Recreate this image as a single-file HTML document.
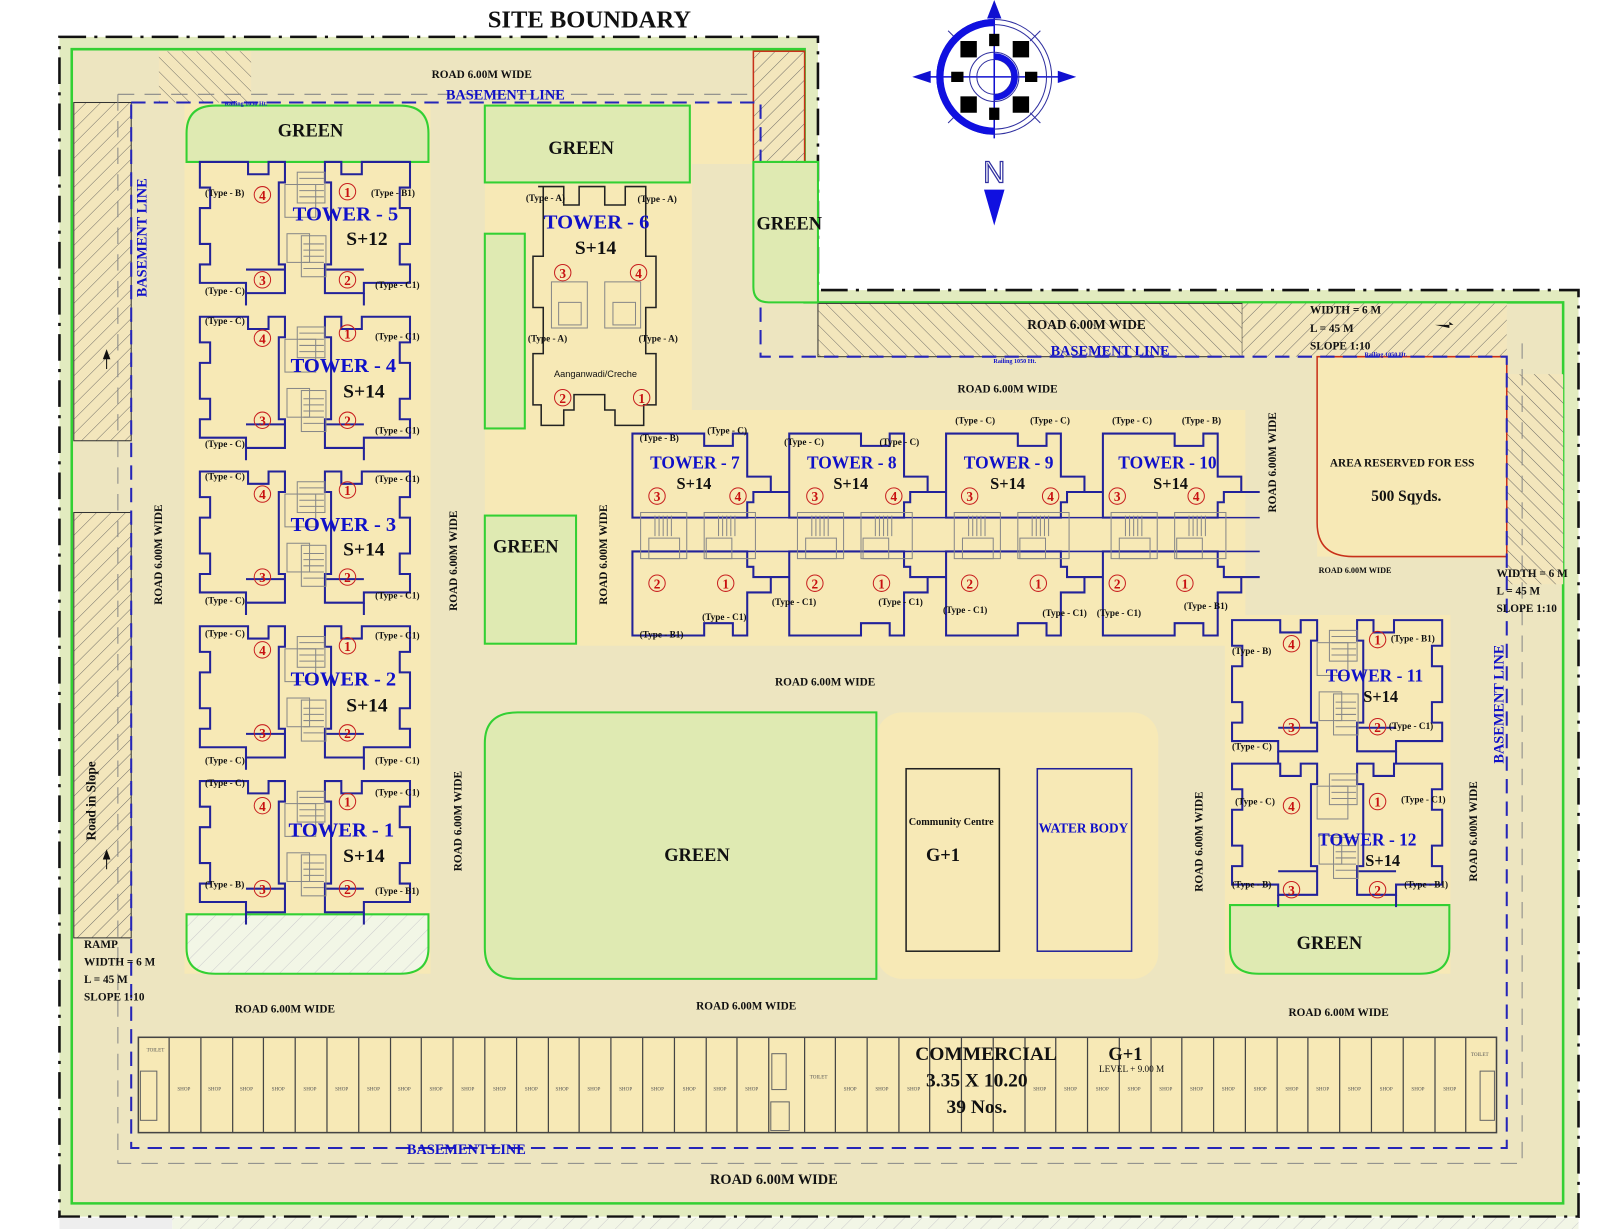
<!DOCTYPE html>
<html><head><meta charset="utf-8"><style>
html,body{margin:0;padding:0;background:#fff}
svg{display:block}
.t{font-family:"Liberation Serif",serif;font-weight:bold;fill:#111}
.b{fill:#1010c8}
.r{fill:#c81010}
</style></head><body>
<svg width="1600" height="1229" viewBox="0 0 1600 1229" xmlns="http://www.w3.org/2000/svg">
<defs>
<pattern id="hatch" width="10" height="10" patternUnits="userSpaceOnUse" patternTransform="rotate(45)">
<rect width="10" height="10" fill="#f3e6bc"/><line x1="0" y1="0" x2="0" y2="10" stroke="#555" stroke-width="0.8"/></pattern>
<pattern id="hatch2" width="10" height="10" patternUnits="userSpaceOnUse" patternTransform="rotate(-45)">
<rect width="10" height="10" fill="#f3e6bc"/><line x1="0" y1="0" x2="0" y2="10" stroke="#555" stroke-width="0.8"/></pattern>
<pattern id="hatchg" width="12" height="12" patternUnits="userSpaceOnUse" patternTransform="rotate(45)">
<rect width="12" height="12" fill="#f2f6e6"/><line x1="0" y1="0" x2="0" y2="12" stroke="#ccc" stroke-width="1"/></pattern>
<g id="vwing" fill="none" stroke="#22229a" stroke-width="2">
<polygon points="5,0 52,0 52,12 72,12 72,0 88,0 88,20 82,20 82,100 88,100 88,128 50,128 50,118 5,118 5,100 15,100 15,80 5,80 5,45 15,45 15,25 5,25"/>
<line x1="50" y1="128" x2="50" y2="140"/>
</g>
<g id="vt">
<use href="#vwing"/>
<use href="#vwing" transform="translate(215,0) scale(-1,1)"/>
<line x1="50" y1="105" x2="88" y2="105" stroke="#22229a" stroke-width="2"/>
<line x1="127" y1="105" x2="165" y2="105" stroke="#22229a" stroke-width="2"/>
<g fill="none" stroke="#888" stroke-width="1">
<rect x="88" y="22" width="30" height="32"/><rect x="100" y="10" width="27" height="30"/>
<rect x="90" y="70" width="22" height="28"/><rect x="104" y="72" width="24" height="40"/>
<path d="M102,16h24M102,22h24M102,28h24M102,34h24M106,80h20M106,86h20M106,92h20M106,98h20M106,104h20"/>
</g>
</g>
<g id="hwing" fill="none" stroke="#22229a" stroke-width="2">
<polygon points="0,8 0,90 112,90 112,75 118,75 118,65 135,65 135,50 112,50 112,8 98,8 98,20 70,20 70,8"/>
<line x1="135" y1="65" x2="153" y2="65"/>
</g>
<g id="ht">
<use href="#hwing"/>
<use href="#hwing" transform="translate(0,213) scale(1,-1)"/>
<line x1="0" y1="90" x2="153" y2="90" stroke="#22229a" stroke-width="1.5"/>
<line x1="0" y1="123" x2="153" y2="123" stroke="#22229a" stroke-width="1.5"/>
<g fill="none" stroke="#888" stroke-width="1">
<rect x="8" y="85" width="45" height="45"/><rect x="16" y="110" width="30" height="20"/>
<rect x="70" y="85" width="50" height="45"/><rect x="72" y="110" width="25" height="20"/>
<path d="M22,88v20M26,88v20M30,88v20M34,88v20M38,88v20M84,88v20M88,88v20M92,88v20M96,88v20M100,88v20"/>
</g>
</g>
</defs>

<g transform="scale(1.025)">
<path d="M58,36 H798 V283 H1540 V1187 H58 Z" fill="#e2ebbf" stroke="#111" stroke-width="2.5" stroke-dasharray="26,8,3,8"/>
<rect x="58" y="1188" width="110" height="14" fill="#eee"/>
<rect x="168" y="1188" width="1372" height="14" fill="url(#hatchg)"/>
<path d="M70,48 H785 V295 H1525 V1174 H70 Z" fill="#ede5c0" stroke="#33d033" stroke-width="2.5"/>
<g fill="#f7e9b6">
<rect x="180" y="100" width="240" height="850"/>
<path d="M473,100 H735 V160 H675 V400 H1215 V630 H473 Z"/>
<rect x="855" y="695" width="275" height="260" rx="25"/>
<rect x="1195" y="600" width="220" height="350"/>
<rect x="1285" y="348" width="185" height="195"/>
<rect x="135" y="1012" width="1325" height="93"/>
</g>
<rect x="155" y="50" width="90" height="50" fill="url(#hatch2)"/>
<rect x="72" y="100" width="56" height="330" fill="url(#hatch)" stroke="#333"/>
<rect x="72" y="500" width="56" height="415" fill="url(#hatch)" stroke="#333"/>
<rect x="798" y="296" width="414" height="52" fill="url(#hatch2)" stroke="#333"/>
<rect x="1212" y="296" width="258" height="52" fill="url(#hatch)"/>
<rect x="1470" y="365" width="55" height="205" fill="url(#hatch2)"/>
<rect x="735" y="50" width="50" height="108" fill="url(#hatch)" stroke="#c8301a" stroke-width="1.5"/>
<path d="M1285,348 H1470 V543 H1320 Q1285,543 1285,510 Z" fill="#f7e9b6" stroke="#c8301a" stroke-width="1.5"/>
<path d="M128,100 H742 V348 H1470 V1120 H128 Z" fill="none" stroke="#2525b8" stroke-width="2" stroke-dasharray="14,8"/>
<path d="M115,92 H730 M115,92 V1135 H1485 V335" fill="none" stroke="#888" stroke-width="1" stroke-dasharray="16,10"/>
<g fill="#dfeab2" stroke="#33d033" stroke-width="2">
<path d="M182,158 V130 Q182,103 210,103 H390 Q418,103 418,130 V158 Z"/>
<rect x="473" y="103" width="200" height="75"/>
<path d="M735,158 H798 V295 H750 Q735,295 735,280 Z"/>
<rect x="473" y="228" width="39" height="190"/>
<rect x="473" y="503" width="89" height="125"/>
<path d="M855,695 V955 H505 Q473,955 473,925 V725 Q473,695 505,695 Z"/>
<path d="M182,892 H418 V925 Q418,950 390,950 H210 Q182,950 182,925 Z" fill="url(#hatchg)"/>
<path d="M1200,883 H1414 V925 Q1414,950 1385,950 H1228 Q1200,950 1200,925 Z"/>
</g>
<use href="#vt" transform="translate(190,158)"/>
<use href="#vt" transform="translate(190,309)"/>
<use href="#vt" transform="translate(190,460)"/>
<use href="#vt" transform="translate(190,611)"/>
<use href="#vt" transform="translate(190,762)"/>
<use href="#vt" transform="translate(1197,605)"/>
<use href="#vt" transform="translate(1197,745)"/>
<use href="#ht" transform="translate(617,415)"/>
<use href="#ht" transform="translate(770,415)"/>
<use href="#ht" transform="translate(923,415)"/>
<use href="#ht" transform="translate(1076,415)"/>
<path d="M525,182 H550 V200 H565 V182 H590 V200 H610 V182 H630 V250 H640 V300 H630 V345 H640 V395 H628 V415 H600 V400 H590 V385 H560 V400 H550 V415 H528 V395 H520 V345 H530 V300 H520 V250 H530 V182 Z" fill="none" stroke="#222" stroke-width="1.5"/>
<g fill="none" stroke="#888"><rect x="538" y="275" width="35" height="45"/><rect x="590" y="275" width="35" height="45"/><rect x="545" y="295" width="22" height="22"/><rect x="598" y="295" width="22" height="22"/></g>
<rect x="884" y="750" width="91" height="178" fill="none" stroke="#222" stroke-width="1.5"/>
<rect x="1012" y="750" width="92" height="178" fill="none" stroke="#22229a" stroke-width="1.5"/>
<rect x="135" y="1012" width="1325" height="93" fill="#f7e9b6" stroke="#444" stroke-width="1.5"/>
<g stroke="#444" stroke-width="1.2">
<line x1="165" y1="1012" x2="165" y2="1105"/>
<path d="M196,1012v93M227,1012v93M257,1012v93M288,1012v93M319,1012v93M350,1012v93M381,1012v93M411,1012v93M442,1012v93M473,1012v93M504,1012v93M535,1012v93M565,1012v93M596,1012v93M627,1012v93M658,1012v93M689,1012v93M719,1012v93M750,1012v93M785,1012v93M815,1012v93M846,1012v93M877,1012v93M907,1012v93M938,1012v93M969,1012v93M1000,1012v93M1030,1012v93M1061,1012v93M1092,1012v93M1123,1012v93M1153,1012v93M1184,1012v93M1215,1012v93M1246,1012v93M1276,1012v93M1307,1012v93M1338,1012v93M1369,1012v93M1400,1012v93M1430,1012v93"/>
</g>
<g fill="none" stroke="#666"><rect x="137" y="1045" width="16" height="48"/><rect x="753" y="1028" width="14" height="35"/><rect x="752" y="1075" width="18" height="28"/><rect x="1444" y="1045" width="14" height="48"/></g>
<g font-family="Liberation Serif,serif" font-size="5" fill="#555">
<text x="143" y="1026">TOILET</text><text x="790" y="1052">TOILET</text><text x="1435" y="1030">TOILET</text>
<text x="173" y="1064">SHOP</text><text x="203" y="1064">SHOP</text><text x="234" y="1064">SHOP</text><text x="265" y="1064">SHOP</text><text x="296" y="1064">SHOP</text><text x="327" y="1064">SHOP</text><text x="358" y="1064">SHOP</text><text x="388" y="1064">SHOP</text><text x="419" y="1064">SHOP</text><text x="450" y="1064">SHOP</text><text x="481" y="1064">SHOP</text><text x="512" y="1064">SHOP</text><text x="542" y="1064">SHOP</text><text x="573" y="1064">SHOP</text><text x="604" y="1064">SHOP</text><text x="635" y="1064">SHOP</text><text x="666" y="1064">SHOP</text><text x="696" y="1064">SHOP</text><text x="727" y="1064">SHOP</text>
<text x="823" y="1064">SHOP</text><text x="854" y="1064">SHOP</text><text x="885" y="1064">SHOP</text><text x="1008" y="1064">SHOP</text><text x="1038" y="1064">SHOP</text><text x="1069" y="1064">SHOP</text><text x="1100" y="1064">SHOP</text><text x="1131" y="1064">SHOP</text><text x="1161" y="1064">SHOP</text><text x="1192" y="1064">SHOP</text><text x="1223" y="1064">SHOP</text><text x="1254" y="1064">SHOP</text><text x="1284" y="1064">SHOP</text><text x="1315" y="1064">SHOP</text><text x="1346" y="1064">SHOP</text><text x="1377" y="1064">SHOP</text><text x="1408" y="1064">SHOP</text>
</g>
<g transform="translate(970,75)">
<line x1="0" y1="-72" x2="0" y2="60" stroke="#1010d0" stroke-width="1.5"/>
<line x1="-75" y1="0" x2="75" y2="0" stroke="#1010d0" stroke-width="1.5"/>
<path d="M-45,-45 L-35,-35 M45,-45 L35,-35 M-45,45 L-35,35 M45,45 L35,35" stroke="#3030a0" stroke-width="1"/>
<path d="M0,-75 l-7,18 h14z M-80,0 l18,-6 v12z M80,0 l-18,-6 v12z" fill="#1010d0"/>
<circle r="56" fill="none" stroke="#3030a0" stroke-width="1"/>
<circle r="51" fill="none" stroke="#3030a0" stroke-width="1"/>
<path d="M0,-53 A53,53 0 0 0 0,53" fill="none" stroke="#1010e0" stroke-width="7"/>
<circle r="24" fill="none" stroke="#3030a0" stroke-width="1"/>
<circle r="17" fill="none" stroke="#3030a0" stroke-width="1"/>
<path d="M0,-20 A20,20 0 0 1 0,20" fill="none" stroke="#1010e0" stroke-width="6"/>
<g fill="#000"><rect x="-33" y="-35" width="16" height="16"/><rect x="18" y="-35" width="16" height="16"/><rect x="-33" y="19" width="16" height="16"/><rect x="18" y="19" width="16" height="16"/><rect x="-5" y="-42" width="10" height="12"/><rect x="-5" y="30" width="10" height="12"/><rect x="-42" y="-5" width="12" height="10"/><rect x="30" y="-5" width="12" height="10"/></g>
<path d="M-10,110 h20 l-10,35z" fill="#1010e0"/>
<text x="0" y="103" text-anchor="middle" font-family="Liberation Sans,sans-serif" font-size="30" fill="#fff" stroke="#3030a0" stroke-width="1.2">N</text>
</g>

<g class="t">
<text x="575" y="27" font-size="24" text-anchor="middle">SITE BOUNDARY</text>
<text x="470" y="76" font-size="11" text-anchor="middle">ROAD 6.00M  WIDE</text>
<text x="303" y="133" font-size="18" text-anchor="middle">GREEN</text>
<text x="567" y="150" font-size="18" text-anchor="middle">GREEN</text>
<text x="770" y="224" font-size="18" text-anchor="middle">GREEN</text>
<text x="513" y="539" font-size="18" text-anchor="middle">GREEN</text>
<text x="680" y="840" font-size="18" text-anchor="middle">GREEN</text>
<text x="1297" y="926" font-size="18" text-anchor="middle">GREEN</text>
<text x="1060" y="321" font-size="13" text-anchor="middle">ROAD 6.00M WIDE</text>
<text x="983" y="383" font-size="11" text-anchor="middle">ROAD 6.00M  WIDE</text>
<text x="805" y="669" font-size="11" text-anchor="middle">ROAD 6.00M  WIDE</text>
<text x="278" y="988" font-size="11" text-anchor="middle">ROAD 6.00M  WIDE</text>
<text x="728" y="985" font-size="11" text-anchor="middle">ROAD 6.00M  WIDE</text>
<text x="1306" y="991" font-size="11" text-anchor="middle">ROAD 6.00M  WIDE</text>
<text x="755" y="1155" font-size="14" text-anchor="middle">ROAD 6.00M  WIDE</text>
<text x="1322" y="559" font-size="8" text-anchor="middle">ROAD 6.00M  WIDE</text>
<text x="1368" y="455" font-size="11" text-anchor="middle">AREA RESERVED FOR ESS</text>
<text x="1372" y="489" font-size="15" text-anchor="middle">500 Sqyds.</text>
<text x="1278" y="306" font-size="11">WIDTH = 6 M</text>
<text x="1278" y="324" font-size="11">L = 45 M</text>
<text x="1278" y="341" font-size="11">SLOPE  1:10</text>
<path d="M1400,317 h18 l-4,-3 v6z" fill="#111"/>
<text x="1460" y="563" font-size="11">WIDTH = 6 M</text>
<text x="1460" y="580" font-size="11">L = 45 M</text>
<text x="1460" y="597" font-size="11">SLOPE  1:10</text>
<text x="82" y="925" font-size="11">RAMP</text>
<text x="82" y="942" font-size="11">WIDTH = 6 M</text>
<text x="82" y="959" font-size="11">L = 45 M</text>
<text x="82" y="976" font-size="11">SLOPE  1:10</text>
<text x="928" y="805" font-size="10" text-anchor="middle">Community Centre</text>
<text x="920" y="840" font-size="18" text-anchor="middle">G+1</text>
<text x="1057" y="812" font-size="13" text-anchor="middle" class="t b">WATER BODY</text>
<text x="962" y="1034" font-size="19" text-anchor="middle">COMMERCIAL</text>
<text x="953" y="1060" font-size="19" text-anchor="middle">3.35 X 10.20</text>
<text x="953" y="1086" font-size="19" text-anchor="middle">39 Nos.</text>
<text x="1098" y="1034" font-size="18" text-anchor="middle">G+1</text>
<text x="1104" y="1046" font-size="9" text-anchor="middle" font-weight="normal">LEVEL + 9.00 M</text>
<text x="581" y="368" font-size="9" text-anchor="middle" font-weight="normal" font-family="Liberation Sans,sans-serif">Aanganwadi/Creche</text>
<text transform="translate(158,590) rotate(-90)" font-size="11">ROAD 6.00M  WIDE</text>
<text transform="translate(446,596) rotate(-90)" font-size="11">ROAD 6.00M  WIDE</text>
<text transform="translate(592,590) rotate(-90)" font-size="11">ROAD 6.00M  WIDE</text>
<text transform="translate(450,850) rotate(-90)" font-size="11">ROAD 6.00M  WIDE</text>
<text transform="translate(1173,870) rotate(-90)" font-size="11">ROAD 6.00M  WIDE</text>
<text transform="translate(1245,500) rotate(-90)" font-size="11">ROAD 6.00M  WIDE</text>
<text transform="translate(1441,860) rotate(-90)" font-size="11">ROAD 6.00M  WIDE</text>
<text transform="translate(93,820) rotate(-90)" font-size="13">Road in Slope</text>
<text transform="translate(143,290) rotate(-90)" font-size="14" class="t b">BASEMENT LINE</text>
<text transform="translate(1467,745) rotate(-90)" font-size="14" class="t b">BASEMENT LINE</text>
<text x="493" y="97" font-size="14" text-anchor="middle" class="t b">BASEMENT LINE</text>
<text x="1083" y="347" font-size="14" text-anchor="middle" class="t b">BASEMENT LINE</text>
<text x="455" y="1126" font-size="14" text-anchor="middle" class="t b">BASEMENT LINE</text>
<text x="240" y="103" font-size="6" text-anchor="middle" class="t b">Railing 1050 Ht.</text>
<text x="990" y="354" font-size="6" text-anchor="middle" class="t b">Railing 1050 Ht.</text>
<text x="1352" y="348" font-size="6" text-anchor="middle" class="t b">Railing 1050 Ht.</text>
<path d="M104,345 v15 M101,350 l3,-8 l3,8z M104,833 v15 M101,838 l3,-8 l3,8z" fill="#111" stroke="#111"/>
</g>

<g class="t b" font-size="20">
<text x="337" y="215" text-anchor="middle">TOWER - 5</text>
<text x="335" y="363" text-anchor="middle">TOWER - 4</text>
<text x="335" y="518" text-anchor="middle">TOWER - 3</text>
<text x="335" y="669" text-anchor="middle">TOWER - 2</text>
<text x="333" y="816" text-anchor="middle">TOWER - 1</text>
<text x="582" y="223" text-anchor="middle">TOWER - 6</text>
<text x="678" y="457" text-anchor="middle" font-size="17">TOWER - 7</text>
<text x="831" y="457" text-anchor="middle" font-size="17">TOWER - 8</text>
<text x="984" y="457" text-anchor="middle" font-size="17">TOWER - 9</text>
<text x="1139" y="457" text-anchor="middle" font-size="17">TOWER - 10</text>
<text x="1341" y="665" text-anchor="middle" font-size="17">TOWER - 11</text>
<text x="1334" y="825" text-anchor="middle" font-size="17">TOWER - 12</text>
</g>
<g class="t" font-size="19">
<text x="358" y="239" text-anchor="middle">S+12</text>
<text x="355" y="388" text-anchor="middle">S+14</text>
<text x="355" y="542" text-anchor="middle">S+14</text>
<text x="358" y="694" text-anchor="middle">S+14</text>
<text x="355" y="841" text-anchor="middle">S+14</text>
<text x="581" y="248" text-anchor="middle">S+14</text>
<text x="677" y="477" text-anchor="middle" font-size="16">S+14</text>
<text x="830" y="477" text-anchor="middle" font-size="16">S+14</text>
<text x="983" y="477" text-anchor="middle" font-size="16">S+14</text>
<text x="1142" y="477" text-anchor="middle" font-size="16">S+14</text>
<text x="1347" y="685" text-anchor="middle" font-size="16">S+14</text>
<text x="1349" y="845" text-anchor="middle" font-size="16">S+14</text>
</g>
<g class="t" font-size="9">
<text x="200" y="191">(Type - B)</text><text x="362" y="191">(Type - B1)</text>
<text x="200" y="287">(Type - C)</text><text x="366" y="281">(Type - C1)</text>
<text x="200" y="316">(Type - C)</text><text x="366" y="331">(Type - C1)</text>
<text x="200" y="436">(Type - C)</text><text x="366" y="423">(Type - C1)</text>
<text x="200" y="468">(Type - C)</text><text x="366" y="470">(Type - C1)</text>
<text x="200" y="589">(Type - C)</text><text x="366" y="584">(Type - C1)</text>
<text x="200" y="621">(Type - C)</text><text x="366" y="623">(Type - C1)</text>
<text x="200" y="745">(Type - C)</text><text x="366" y="745">(Type - C1)</text>
<text x="200" y="767">(Type - C)</text><text x="366" y="776">(Type - C1)</text>
<text x="200" y="866">(Type - B)</text><text x="366" y="872">(Type - B1)</text>
<text x="513" y="196">(Type - A)</text><text x="622" y="197">(Type - A)</text>
<text x="515" y="333">(Type - A)</text><text x="623" y="333">(Type - A)</text>
<text x="624" y="430">(Type - B)</text><text x="690" y="423">(Type - C)</text>
<text x="765" y="434">(Type - C)</text><text x="858" y="434">(Type - C)</text>
<text x="932" y="413">(Type - C)</text><text x="1005" y="413">(Type - C)</text>
<text x="1085" y="413">(Type - C)</text><text x="1153" y="413">(Type - B)</text>
<text x="624" y="622">(Type - B1)</text><text x="685" y="605">(Type - C1)</text>
<text x="753" y="590">(Type - C1)</text><text x="857" y="590">(Type - C1)</text>
<text x="920" y="598">(Type - C1)</text><text x="1017" y="601">(Type - C1)</text>
<text x="1070" y="601">(Type - C1)</text><text x="1155" y="594">(Type - B1)</text>
<text x="1202" y="638">(Type - B)</text><text x="1357" y="626">(Type - B1)</text>
<text x="1202" y="731">(Type - C)</text><text x="1355" y="711">(Type - C1)</text>
<text x="1205" y="785">(Type - C)</text><text x="1367" y="783">(Type - C1)</text>
<text x="1202" y="866">(Type - B)</text><text x="1370" y="866">(Type - B1)</text>
</g>
<g fill="none" stroke="#c82020" stroke-width="1">
<circle cx="256" cy="190" r="8"/><circle cx="339" cy="187" r="8"/><circle cx="256" cy="273" r="8"/><circle cx="339" cy="273" r="8"/>
<circle cx="256" cy="330" r="8"/><circle cx="339" cy="325" r="8"/><circle cx="256" cy="410" r="8"/><circle cx="339" cy="410" r="8"/>
<circle cx="256" cy="482" r="8"/><circle cx="339" cy="478" r="8"/><circle cx="256" cy="563" r="8"/><circle cx="339" cy="563" r="8"/>
<circle cx="256" cy="634" r="8"/><circle cx="339" cy="630" r="8"/><circle cx="256" cy="715" r="8"/><circle cx="339" cy="715" r="8"/>
<circle cx="256" cy="786" r="8"/><circle cx="339" cy="782" r="8"/><circle cx="256" cy="867" r="8"/><circle cx="339" cy="867" r="8"/>
<circle cx="549" cy="266" r="8"/><circle cx="623" cy="266" r="8"/><circle cx="549" cy="388" r="8"/><circle cx="626" cy="388" r="8"/>
<circle cx="641" cy="484" r="8"/><circle cx="720" cy="484" r="8"/><circle cx="795" cy="484" r="8"/><circle cx="872" cy="484" r="8"/>
<circle cx="946" cy="484" r="8"/><circle cx="1025" cy="484" r="8"/><circle cx="1090" cy="484" r="8"/><circle cx="1167" cy="484" r="8"/>
<circle cx="641" cy="569" r="8"/><circle cx="708" cy="569" r="8"/><circle cx="795" cy="569" r="8"/><circle cx="860" cy="569" r="8"/>
<circle cx="946" cy="569" r="8"/><circle cx="1013" cy="569" r="8"/><circle cx="1090" cy="569" r="8"/><circle cx="1156" cy="569" r="8"/>
<circle cx="1260" cy="628" r="8"/><circle cx="1344" cy="624" r="8"/><circle cx="1260" cy="709" r="8"/><circle cx="1344" cy="709" r="8"/>
<circle cx="1260" cy="786" r="8"/><circle cx="1344" cy="782" r="8"/><circle cx="1260" cy="868" r="8"/><circle cx="1344" cy="868" r="8"/>
</g>
<g class="t r" font-size="13" text-anchor="middle" font-weight="normal">
<text x="256" y="195">4</text><text x="339" y="192">1</text><text x="256" y="278">3</text><text x="339" y="278">2</text>
<text x="256" y="335">4</text><text x="339" y="330">1</text><text x="256" y="415">3</text><text x="339" y="415">2</text>
<text x="256" y="487">4</text><text x="339" y="483">1</text><text x="256" y="568">3</text><text x="339" y="568">2</text>
<text x="256" y="639">4</text><text x="339" y="635">1</text><text x="256" y="720">3</text><text x="339" y="720">2</text>
<text x="256" y="791">4</text><text x="339" y="787">1</text><text x="256" y="872">3</text><text x="339" y="872">2</text>
<text x="549" y="271">3</text><text x="623" y="271">4</text><text x="549" y="393">2</text><text x="626" y="393">1</text>
<text x="641" y="489">3</text><text x="720" y="489">4</text><text x="795" y="489">3</text><text x="872" y="489">4</text>
<text x="946" y="489">3</text><text x="1025" y="489">4</text><text x="1090" y="489">3</text><text x="1167" y="489">4</text>
<text x="641" y="574">2</text><text x="708" y="574">1</text><text x="795" y="574">2</text><text x="860" y="574">1</text>
<text x="946" y="574">2</text><text x="1013" y="574">1</text><text x="1090" y="574">2</text><text x="1156" y="574">1</text>
<text x="1260" y="633">4</text><text x="1344" y="629">1</text><text x="1260" y="714">3</text><text x="1344" y="714">2</text>
<text x="1260" y="791">4</text><text x="1344" y="787">1</text><text x="1260" y="873">3</text><text x="1344" y="873">2</text>
</g>
</g>
</svg>
</body></html>
